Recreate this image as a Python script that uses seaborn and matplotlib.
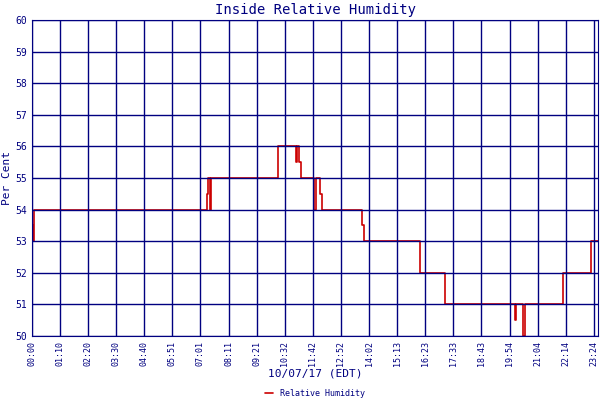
import matplotlib
matplotlib.use("Agg")
import matplotlib.pyplot as plt
import seaborn as sns

sns.set_style("white")
plt.rcParams["font.family"] = ["DejaVu Sans Mono"]

# step data: time (hours since 00:00) and humidity value from that time on
times = [0.00, 0.04, 0.08, 7.30, 7.34, 7.40, 7.45, 10.25, 11.00, 11.06, 11.12,
         11.20, 11.75, 11.85, 12.00, 12.10, 12.17, 13.75, 13.85, 14.00,
         16.17, 17.20, 20.12, 20.16, 20.45, 20.55, 22.13, 23.30, 23.58]
values = [53.5, 53, 54, 54.5, 55, 54, 55, 56, 55.5, 56, 55.5,
          55, 54, 55, 54.5, 54, 54, 53.5, 53, 53,
          52, 51, 50.5, 51, 50, 51, 52, 53, 53]

tick_hours = [i * 70.2 / 60 for i in range(21)]
tick_labels = ["00:00", "01:10", "02:20", "03:30", "04:40", "05:51", "07:01",
               "08:11", "09:21", "10:32", "11:42", "12:52", "14:02", "15:13",
               "16:23", "17:33", "18:43", "19:54", "21:04", "22:14", "23:24"]

navy = "#000080"
fig, ax = plt.subplots(figsize=(6, 4), dpi=100)
fig.subplots_adjust(left=0.053, right=0.997, top=0.95, bottom=0.16)

ax.step(times, values, where="post", color="#cc0000", lw=1.2,
        label="Relative Humidity", zorder=2)
ax.set_xlim(0, 23.58)
ax.set_ylim(50, 60)
ax.set_yticks(range(50, 61))
ax.set_xticks(tick_hours)
ax.set_xticklabels(tick_labels, rotation=90, fontsize=6, color=navy)
ax.tick_params(axis="y", labelsize=7, colors=navy, length=0)
ax.tick_params(axis="x", length=0, colors=navy)
ax.grid(True, color=navy, lw=1, zorder=3)
ax.set_axisbelow(False)
for s in ax.spines.values():
    s.set_color(navy)
ax.set_title("Inside Relative Humidity", fontsize=10, color=navy, pad=4)
ax.set_ylabel("Per Cent", fontsize=8, color=navy, labelpad=2)
ax.set_xlabel("10/07/17 (EDT)", fontsize=8, color=navy, labelpad=2)
ax.legend(loc="upper center", bbox_to_anchor=(0.5, -0.165), frameon=False,
          fontsize=6, handlelength=1, labelcolor=navy, borderaxespad=0,
          borderpad=0.1)

fig.savefig("out.png")
